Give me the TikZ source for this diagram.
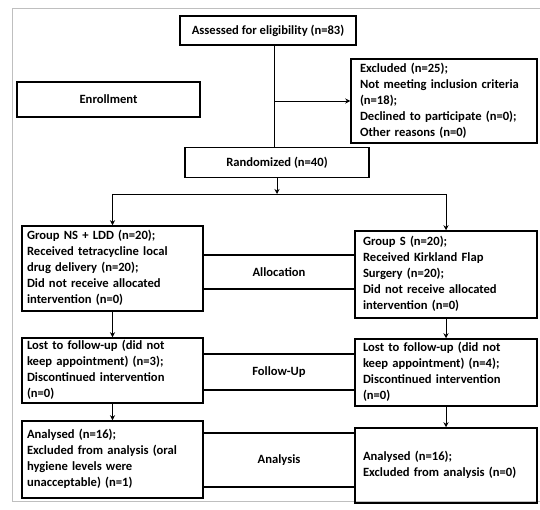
\documentclass[tikz,border=0pt]{standalone}
\usepackage{fontspec}
\setmainfont{Carlito}
\usetikzlibrary{arrows.meta}

\begin{document}
\begin{tikzpicture}[x=1pt, y=-1pt,
  box/.style={draw, line width=1.5pt, inner sep=0pt, font=\bfseries\fontsize{12.6}{16}\selectfont},
  lbox/.style={box, inner xsep=5pt, text width=171pt, align=left},
  rbox/.style={box, inner xsep=8pt, text width=166pt, align=left},
  band/.style={inner sep=0pt, minimum width=152pt, font=\bfseries\fontsize{12.6}{16}\selectfont},
  conn/.style={line width=0.9pt},
  arr/.style={conn, -{Stealth[length=5pt,width=5pt]}}]

\useasboundingbox (0,0) rectangle (540,510);

%%% 枠
\draw[black!25, line width=0.8pt] (540,8) --(12,8) --(12,501) --(540,501);
%%%

%% 登録
\node[box, minimum width=176pt, minimum height=29pt] (assess) at (268,30.5) {Assessed for eligibility (n=83)};
\node[box, inner xsep=9pt, text width=168pt, align=left, minimum height=84pt] (excl) at (444,101) {\begin{tabular}{@{}l@{}}Excluded (n=25);\\ Not meeting inclusion criteria\\ (n=18);\\ Declined to participate (n=0);\\ Other reasons (n=0)\end{tabular}};
\node[box, minimum width=183pt, minimum height=35pt] (enrol) at (108.5,99.5) {Enrollment};
\node[box, minimum width=184pt, minimum height=30pt] (rand) at (277,162.5) {Randomized (n=40)};

%% 割付
\node[lbox, minimum height=85pt] (ns) at (112.5,268.5) {\begin{tabular}{@{}l@{}}Group NS + LDD (n=20);\\ Received tetracycline local\\ drug delivery (n=20);\\ Did not receive allocated\\ intervention (n=0)\end{tabular}};
\node[rbox, minimum height=87pt] (s) at (446,274.5) {\begin{tabular}{@{}l@{}}Group S (n=20);\\ Received Kirkland Flap\\ Surgery (n=20);\\ Did not receive allocated\\ intervention (n=0)\end{tabular}};
\node[band, minimum height=34pt] (alloc) at (279,272) {Allocation};

%% 追跡
\node[lbox, minimum height=65pt] (lfl) at (112.5,370.5) {\begin{tabular}{@{}l@{}}Lost to follow-up (did not\\ keep appointment) (n=3);\\ Discontinued intervention\\ (n=0)\end{tabular}};
\node[rbox, minimum height=67pt] (lfr) at (446,372.5) {\begin{tabular}{@{}l@{}}Lost to follow-up (did not\\ keep appointment) (n=4);\\ Discontinued intervention\\ (n=0)\end{tabular}};
\node[band, minimum height=36pt] (follow) at (279,372) {Follow-Up};

%% 解析
\node[lbox, minimum height=77pt] (anl) at (112.5,459.5) {\begin{tabular}{@{}l@{}}Analysed (n=16);\\ Excluded from analysis (oral\\ hygiene levels were\\ unacceptable) (n=1)\end{tabular}};
\node[rbox, minimum height=75pt] (anr) at (446,465.5) {\begin{tabular}{@{}l@{}}Analysed (n=16);\\ Excluded from analysis (n=0)\end{tabular}};
\node[band, minimum height=54pt] (analysis) at (279,460) {Analysis};

%% 線
\coordinate (trunk) at (274,101);
\coordinate (split) at (0,194);
\draw[conn] (assess.south -| trunk) --(rand.north -| trunk);
\draw[arr] (trunk) --(excl.west);

\draw[arr] (rand.south) --(rand.south |- split);
\draw[conn] (ns.north |- split) --(s.north |- split);
\draw[arr] (ns.north |- split) --(ns.north);
\draw[arr] (s.north |- split) --(s.north);

\draw[arr] (ns.south) --(lfl.north);
\draw[arr] (s.south) --(lfr.north);
\draw[arr] (lfl.south) --(anl.north);
\draw[arr] (lfr.south) --(anr.north);

%% 帯
\foreach \b in {alloc, follow, analysis} {
  \draw[line width=1.5pt] (\b.north west) --(\b.north east);
  \draw[line width=1.5pt] (\b.south west) --(\b.south east);
}

\end{tikzpicture}
\end{document}
